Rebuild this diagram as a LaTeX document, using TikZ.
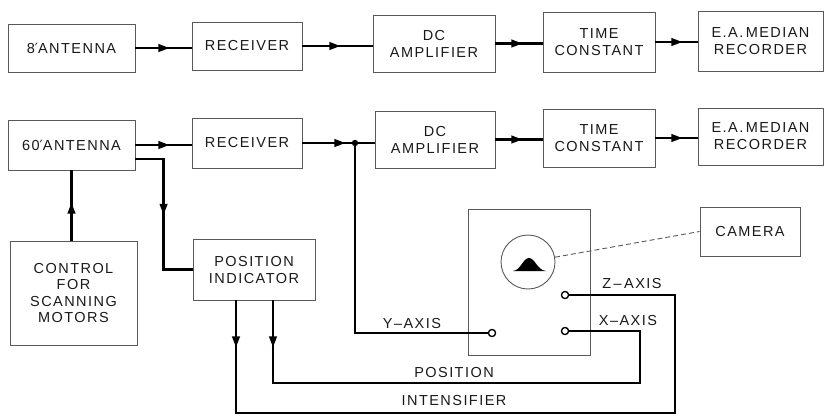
\documentclass[tikz,border=0pt]{standalone}
\usepackage{fontspec}
\setmainfont{Liberation Sans}
\newfontfamily\lettering[LetterSpace=10]{Liberation Sans}
\newfontfamily\primefont{DejaVu Sans}
\usetikzlibrary{arrows.meta,decorations.markings,calc}
\begin{document}
\begin{tikzpicture}[x=1bp,y=-1bp,
  txt/.style={font=\lettering\fontsize{14.5bp}{17bp}\selectfont, text=black!90},
  box/.style={txt, draw=black!65, line width=0.9bp, align=center, inner sep=0pt},
  conn/.style={line width=2.3bp, black},
  midarrow/.style={postaction={decorate,decoration={markings,
      mark=at position #1 with {\arrow{Triangle[length=11bp,width=7.5bp]}}}}},
  term/.style={circle, draw=black, line width=1.2bp, fill=white, inner sep=0pt, minimum size=7bp},
  lbl/.style={txt, inner sep=0pt}]
\useasboundingbox (0,0) rectangle (825,419);

% row 1
\node[box, minimum width=127bp, minimum height=48bp] (ant8) at (71.5,48) {8{\primefont\fontsize{14bp}{17bp}\selectfont ′}ANTENNA};
\node[box, minimum width=110bp, minimum height=48bp] (rec1) at (247,46) {RECEIVER};
\node[box, minimum width=122bp, minimum height=57bp] (dc1) at (434,43.5) {DC\\AMPLIFIER};
\node[box, minimum width=112bp, minimum height=60bp] (tc1) at (599,42) {TIME\\CONSTANT};
\node[box, minimum width=125bp, minimum height=60bp] (ear1) at (760.5,41) {E.A.\,MEDIAN\\RECORDER};

% row 2
\node[box, minimum width=127bp, minimum height=50bp] (ant60) at (71.5,145) {60{\primefont\fontsize{14bp}{17bp}\selectfont ′}ANTENNA};
\node[box, minimum width=110bp, minimum height=50bp] (rec2) at (247,143) {RECEIVER};
\node[box, minimum width=120bp, minimum height=57bp] (dc2) at (435,139.5) {DC\\AMPLIFIER};
\node[box, minimum width=112bp, minimum height=58bp] (tc2) at (599,138) {TIME\\CONSTANT};
\node[box, minimum width=125bp, minimum height=57bp] (ear2) at (760.5,136.5) {E.A.\,MEDIAN\\RECORDER};

% lower part
\node[box, minimum width=127bp, minimum height=104bp, font=\lettering\fontsize{14.5bp}{16.5bp}\selectfont] (ctrl) at (73.5,293) {CONTROL\\FOR\\SCANNING\\MOTORS};
\node[box, minimum width=122bp, minimum height=61bp] (posind) at (254,269.5) {POSITION\\INDICATOR};
\node[box, minimum width=122bp, minimum height=146bp] (scope) at (529,282) {};
\node[box, minimum width=100bp, minimum height=49bp] (camera) at (750,231.5) {CAMERA};
\node[circle, draw=black!65, line width=0.9bp, minimum size=54bp, inner sep=0pt] (crt) at (528,262) {};
\fill[black] (513,271) .. controls (521,270) and (523,258) .. (529,258)
  .. controls (535,258) and (537,270) .. (546,271) -- cycle;
\draw[black!65, line width=0.9bp, dash pattern=on 5bp off 3bp] (crt) -- (camera.west);

% terminals
\node[term] (zt) at (565,295) {};
\node[term] (xt) at (565,331) {};
\node[term] (yt) at (492,333) {};
\coordinate (j) at (355,143);

% row 1 connectors
\draw[conn, midarrow=34bp] (ant8.east) -- (ant8.east -| rec1.west);
\draw[conn, midarrow=38bp] (rec1.east) -- (rec1.east -| dc1.west);
\draw[conn, midarrow=27bp] (dc1.east) -- (dc1.east -| tc1.west);
\draw[conn, midarrow=27bp] (tc1.east) -- (tc1.east -| ear1.west);

% row 2 connectors
\draw[conn, midarrow=34bp] (ant60.east) -- (ant60.east -| rec2.west);
\draw[conn, midarrow=43bp] (rec2.east) -- (j) -- (j -| dc2.west);
\fill (j) circle (3.2bp);
\draw[conn, midarrow=27bp] (dc2.east) -- (dc2.east -| tc2.west);
\draw[conn, midarrow=27bp] (tc2.east) -- (tc2.east -| ear2.west);

% antenna links
\draw[conn, midarrow=38bp] (ant60.south |- ctrl.north) -- (ant60.south);
\draw[conn, midarrow=84bp] ([yshift=-14bp]ant60.east) -| ([xshift=-29bp]posind.west) -- (posind.west);

% scope inputs
\draw[conn] (j) |- (yt);
\draw[conn, midarrow=47bp] ([xshift=-18bp]posind.south) |- (675,413) |- (zt);
\draw[conn, midarrow=47bp] ([xshift=19bp]posind.south) |- (640,383) |- (xt);
\node[term] at (zt) {};
\node[term] at (xt) {};
\node[term] at (yt) {};

% labels
\node[lbl] (lz) at (632,283) {Z\,–\,AXIS};
\node[lbl] (lx) at (628,320) {X–AXIS};
\node[lbl] (ly) at (412,323) {Y–AXIS};
\node[lbl] (lp) at (454,372) {POSITION};
\node[lbl] (li) at (454,400) {INTENSIFIER};
\end{tikzpicture}
\end{document}
